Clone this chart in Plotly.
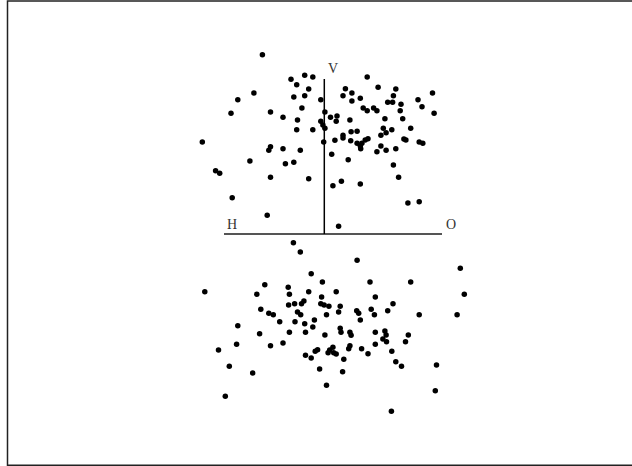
import plotly.graph_objects as go

# Points (picture units: x to the right, y downward)
upper_x = [262.4, 291.0, 304.7, 312.8, 296.7, 308.7, 253.9, 237.8, 231.0, 293.8,
           304.7, 320.8, 301.9, 270.5, 283.0, 297.5, 324.9, 330.5, 337.0, 336.2,
           320.8, 322.9, 324.9, 312.8, 296.7, 202.3, 270.5, 268.8, 283.0, 300.3,
           323.7, 334.9, 331.7, 343.0, 343.0, 349.9, 351.1, 357.1, 350.7, 357.1,
           360.3, 361.9, 360.7, 365.2, 368.0, 376.9, 380.9, 386.1, 395.8, 380.9,
           383.3, 386.1, 391.8, 384.9, 403.9, 405.9, 410.7, 402.7, 419.2, 422.8,
           345.4, 351.9, 343.0, 351.9, 360.3, 367.2, 378.1, 395.8, 393.4, 387.7,
           392.6, 401.0, 400.2, 363.2, 367.2, 373.6, 376.9, 418.0, 422.0, 432.5,
           434.1, 215.6, 219.7, 249.9, 285.4, 293.8, 270.5, 308.7, 332.9, 341.4,
           360.3, 348.2, 393.4, 398.6, 232.2, 407.9, 419.2, 267.2, 338.6]
upper_y = [54.7, 79.3, 75.3, 77.0, 84.7, 89.0, 93.0, 99.7, 113.3, 97.0,
           95.7, 99.7, 108.0, 112.0, 117.3, 120.0, 112.0, 117.3, 116.0, 121.3,
           121.3, 125.0, 128.3, 129.7, 129.7, 142.0, 146.7, 150.3, 148.7, 150.3,
           142.0, 140.3, 154.3, 135.3, 138.0, 120.0, 131.7, 131.3, 140.7, 143.3,
           146.0, 143.3, 148.7, 140.0, 138.7, 151.7, 146.0, 150.3, 148.7, 135.3,
           128.3, 132.7, 129.7, 118.7, 139.0, 140.0, 128.3, 118.7, 142.0, 143.3,
           88.7, 93.0, 95.7, 101.0, 98.3, 77.0, 87.3, 89.0, 95.7, 102.3,
           102.3, 104.3, 110.7, 108.0, 110.7, 108.0, 110.7, 99.7, 106.7, 93.0,
           113.3, 170.7, 173.3, 161.0, 163.7, 162.3, 177.3, 178.7, 185.7, 181.3,
           184.0, 159.7, 165.0, 177.3, 197.7, 203.0, 201.7, 215.3, 226.3]

lower_x = [293.4, 300.3, 357.1, 460.3, 311.2, 322.4, 370.0, 410.7, 264.8, 288.2,
           204.8, 256.8, 289.4, 308.7, 336.2, 464.3, 375.3, 321.6, 303.9, 301.5,
           288.6, 294.6, 320.8, 324.1, 328.9, 340.2, 393.0, 260.8, 268.8, 273.3,
           297.5, 300.7, 326.5, 338.6, 356.7, 358.7, 371.2, 374.4, 387.7, 419.2,
           457.1, 279.7, 295.0, 304.7, 314.4, 360.3, 237.8, 259.6, 289.4, 305.5,
           312.8, 324.9, 340.2, 341.0, 349.9, 351.1, 375.3, 384.9, 386.1, 408.3,
           382.9, 386.5, 405.5, 375.3, 236.6, 270.5, 283.0, 349.9, 348.7, 361.6,
           368.0, 391.8, 218.5, 332.9, 329.7, 328.1, 333.7, 336.2, 315.2, 317.6,
           305.5, 311.2, 343.8, 395.8, 401.5, 436.5, 229.3, 252.7, 319.6, 342.6,
           326.5, 435.3, 225.3, 391.4]
lower_y = [242.7, 252.0, 260.3, 268.3, 273.7, 282.0, 282.0, 282.0, 284.7, 287.3,
           291.7, 294.3, 294.3, 291.7, 291.7, 294.3, 297.0, 297.0, 301.0, 303.7,
           305.0, 303.7, 303.7, 305.0, 306.3, 306.3, 303.7, 309.3, 313.3, 314.7,
           312.0, 314.7, 314.7, 312.0, 310.7, 313.3, 309.3, 314.7, 310.7, 314.7,
           314.7, 321.7, 321.7, 323.7, 320.0, 320.0, 325.7, 333.7, 332.3, 332.3,
           327.0, 335.0, 328.3, 332.3, 332.3, 335.3, 332.3, 331.0, 335.0, 335.0,
           339.0, 341.7, 341.7, 344.3, 344.3, 345.7, 343.0, 345.7, 348.7, 348.7,
           353.7, 351.3, 350.0, 347.3, 350.0, 352.7, 352.7, 354.0, 351.3, 349.7,
           355.3, 358.0, 359.3, 361.7, 366.3, 365.0, 366.3, 373.0, 369.0, 371.7,
           385.3, 390.7, 396.3, 411.3]

axis_labels = ["H", "O", "V"]

fig = go.Figure()
marker = dict(size=5.5, color="black", line=dict(width=0))
fig.add_trace(go.Scatter(x=upper_x, y=upper_y, mode="markers", marker=marker,
                         name="upper", showlegend=False, hoverinfo="skip"))
fig.add_trace(go.Scatter(x=lower_x, y=lower_y, mode="markers", marker=marker,
                         name="lower", showlegend=False, hoverinfo="skip"))

# axes cross
fig.add_shape(type="line", x0=224, x1=442, y0=234, y1=234,
              line=dict(color="#555555", width=2), layer="below")
fig.add_shape(type="line", x0=324.3, x1=324.3, y0=79, y1=234,
              line=dict(color="black", width=1.5), layer="below")
# frame
fig.add_shape(type="rect", x0=7.5, x1=634, y0=1, y1=465.2,
              line=dict(color="#222222", width=1.5))

font = dict(family="Liberation Serif", size=14, color="#333333")
for txt, x, y in zip(axis_labels, [232.3, 450.7, 333.3], [224, 224, 68.3]):
    fig.add_annotation(x=x, y=y, text=txt, showarrow=False, font=font,
                       xanchor="center", yanchor="middle")

fig.update_layout(
    width=632, height=466,
    margin=dict(l=0, r=0, t=0, b=0),
    paper_bgcolor="white", plot_bgcolor="white",
    xaxis=dict(range=[0, 632], visible=False, fixedrange=True),
    yaxis=dict(range=[466, 0], visible=False, fixedrange=True),
)

fig.write_html(
    "out.html",
    config={"displayModeBar": False},
    post_script="document.body.style.margin='0';document.body.style.overflow='hidden';",
)
